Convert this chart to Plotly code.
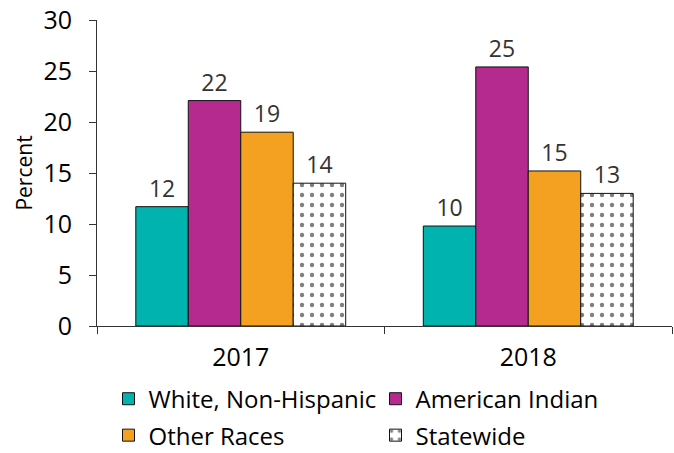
import plotly.graph_objects as go

years = ["2017", "2018"]
series_names = ["White, Non-Hispanic", "American Indian", "Other Races", "Statewide"]
white = [11.7, 9.8]
american_indian = [22.1, 25.4]
other_races = [19.0, 15.2]
statewide = [14.0, 13.0]
labels_white = ["12", "10"]
labels_ai = ["22", "25"]
labels_other = ["19", "15"]
labels_state = ["14", "13"]

colors = ["#00B3AE", "#B52A8F", "#F4A020", "#FFFFFF"]
values = [white, american_indian, other_races, statewide]
labels = [labels_white, labels_ai, labels_other, labels_state]
legend_ids = ["legend", "legend", "legend2", "legend2"]

FONT = "Open Sans"
fig = go.Figure()
for i, (name, vals, lab) in enumerate(zip(series_names, values, labels)):
    marker = dict(color=colors[i], line=dict(color="#111111", width=1))
    if name == "Statewide":
        marker["pattern"] = dict(shape=".", fgcolor="black", bgcolor="white", size=10, solidity=0.15)
    fig.add_trace(go.Bar(
        x=years, y=vals, name=name, text=lab, textposition="outside",
        textfont=dict(size=23, color="#333333", family=FONT),
        marker=marker, cliponaxis=False, legend=legend_ids[i],
    ))

leg_common = dict(orientation="h", x=0.02, xanchor="left", yanchor="middle",
                  entrywidth=222, entrywidthmode="pixels",
                  font=dict(size=24, family=FONT, color="black"),
                  tracegroupgap=0, itemwidth=30, bgcolor="rgba(0,0,0,0)")

fig.update_layout(
    width=674, height=453,
    margin=dict(l=97, r=2, t=20, b=127, autoexpand=False),
    paper_bgcolor="white", plot_bgcolor="white",
    barmode="group", bargap=0.27, bargroupgap=0,
    font=dict(family=FONT, size=24, color="black"),
    showlegend=True,
    legend=dict(leg_common, y=-0.239),
    legend2=dict(leg_common, y=-0.358),
)
fig.update_xaxes(
    showline=True, linecolor="#333333", linewidth=1,
    ticks="outside", tickson="boundaries", ticklen=7, tickcolor="#333333",
    tickfont=dict(size=25, family=FONT, color="black"), ticklabelstandoff=9,
)
fig.update_yaxes(
    range=[0, 30], dtick=5, showgrid=False, zeroline=False,
    showline=True, linecolor="#333333", linewidth=1,
    ticks="outside", ticklen=7, tickcolor="#333333",
    tickfont=dict(size=25, family=FONT, color="black"), ticklabelstandoff=12,
    title=dict(text="Percent", font=dict(size=21, family=FONT, color="black"), standoff=5),
)

fig.write_html("out.html")
